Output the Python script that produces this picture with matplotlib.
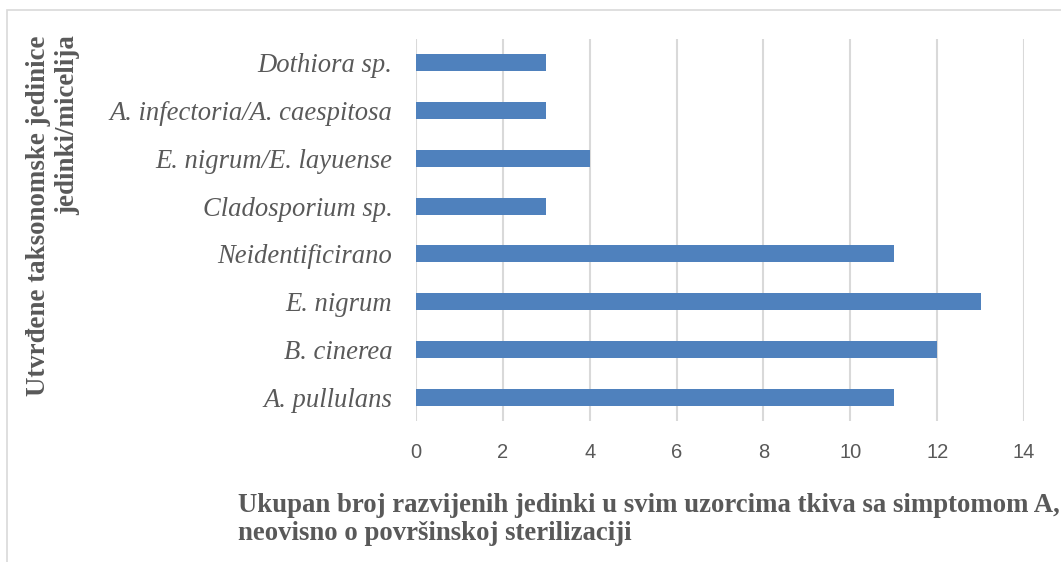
import matplotlib.pyplot as plt
from matplotlib.patches import Rectangle

kategorije = ["A. pullulans", "B. cinerea", "E. nigrum", "Neidentificirano",
              "Cladosporium sp.", "E. nigrum/E. layuense",
              "A. infectoria/A. caespitosa", "Dothiora sp."]
broj = [11, 12, 13, 11, 3, 4, 3, 3]
x_ticks = [0, 2, 4, 6, 8, 10, 12, 14]

siva = "#595959"

fig = plt.figure(figsize=(10.61, 5.62), dpi=100)
ax = fig.add_axes([416 / 1061, 1 - 421 / 562, (1024 - 416) / 1061, (421 - 39) / 562])

ax.barh(range(len(kategorije)), broj, height=0.36, color="#4F81BD", zorder=3)

ax.set_xlim(0, 14)
ax.set_ylim(-0.5, len(kategorije) - 0.5)
ax.set_xticks(x_ticks)
ax.set_yticks(range(len(kategorije)))
ax.set_yticklabels(kategorije, family="Liberation Serif", style="italic",
                   fontsize=19.2, color=siva)
ax.set_xticklabels([str(t) for t in x_ticks], family="Liberation Sans",
                   fontsize=14.5, color=siva)
ax.tick_params(axis="x", length=0, pad=16)
ax.tick_params(axis="y", length=0, pad=17)
ax.grid(axis="x", color="#d9d9d9", linewidth=1.5, zorder=0)
for s in ax.spines.values():
    s.set_visible(False)

fig.text(53 / 1061, 1 - 35 / 562, "Utvrđene taksonomske jedinice\njedinki/micelija",
         rotation=90, ha="center", va="top", multialignment="right",
         family="Liberation Serif", weight="bold", fontsize=19.4, color=siva,
         linespacing=1.18)

fig.text(238 / 1061, 1 - 493 / 562,
         "Ukupan broj razvijenih jedinki u svim uzorcima tkiva sa simptomom A,\nneovisno o površinskoj sterilizaciji",
         ha="left", va="top", family="Liberation Serif", weight="bold",
         fontsize=19.3, color=siva, linespacing=1.18)

fig.patches.append(Rectangle((7 / 1061, -0.1), 1.2, 1 - 10 / 562 + 0.1,
                             transform=fig.transFigure, fill=False,
                             edgecolor="#d9d9d9", linewidth=1.2))

fig.savefig("out.png", dpi=100)
